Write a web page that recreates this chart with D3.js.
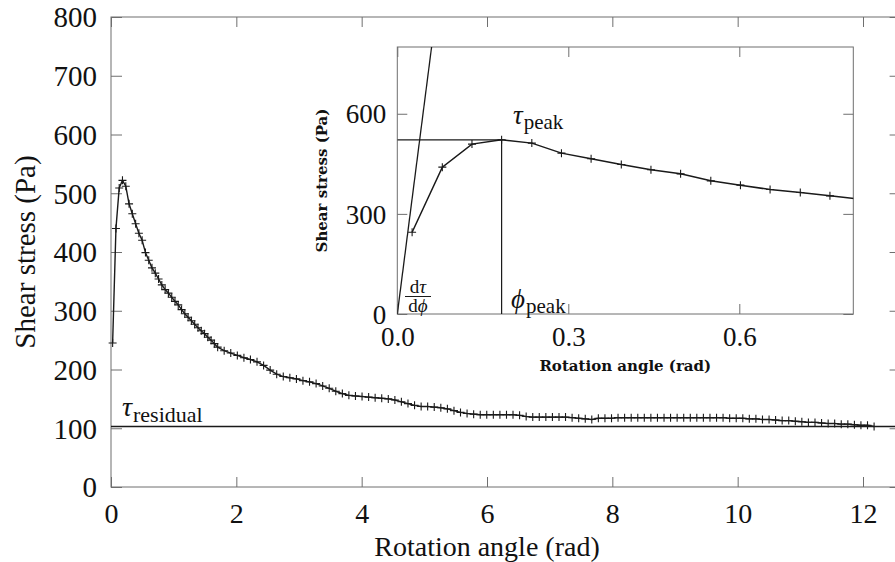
<!DOCTYPE html>
<html>
<head>
<meta charset="utf-8">
<script src="https://cdn.jsdelivr.net/npm/d3@7/dist/d3.min.js"></script>
<style>
  html, body { margin: 0; padding: 0; background: #fff; }
  svg { display: block; }
</style>
</head>
<body>
<div id="chart"></div>
<script>
// Rotation angle (rad) of each logged sample
const rotationAngle = [
  0.026, 0.079, 0.131, 0.183, 0.236, 0.288, 0.340, 0.393, 0.445, 0.497,
  0.550, 0.602, 0.654, 0.707, 0.759, 0.811, 0.864, 0.916, 0.969, 1.021,
  1.073, 1.126, 1.178, 1.230, 1.283, 1.335, 1.388, 1.440, 1.492, 1.545,
  1.597, 1.649, 1.702, 1.806, 1.911, 2.016, 2.121, 2.225, 2.330, 2.435,
  2.540, 2.644, 2.749, 2.854, 2.959, 3.063, 3.168, 3.273, 3.378, 3.482,
  3.587, 3.692, 3.796, 3.901, 4.006, 4.111, 4.215, 4.320, 4.425, 4.530,
  4.634, 4.739, 4.844, 4.949, 5.053, 5.158, 5.263, 5.368, 5.473, 5.577,
  5.682, 5.787, 5.892, 5.996, 6.101, 6.206, 6.311, 6.415, 6.520, 6.625,
  6.730, 6.834, 6.939, 7.044, 7.149, 7.253, 7.358, 7.463, 7.568, 7.672,
  7.777, 7.882, 7.987, 8.091, 8.196, 8.301, 8.406, 8.510, 8.615, 8.720,
  8.825, 8.929, 9.034, 9.139, 9.244, 9.348, 9.453, 9.558, 9.663, 9.767,
  9.872, 9.977, 10.082, 10.186, 10.291, 10.396, 10.501, 10.605, 10.710, 10.815,
  10.920, 11.024, 11.129, 11.234, 11.339, 11.444, 11.548, 11.653, 11.758, 11.863,
  11.967, 12.072, 12.177
];
// Shear stress (Pa) measured at each angle
const shearStress = [
  245, 440, 509, 522, 512, 482, 465, 448, 432, 420,
  399, 386, 373, 364, 354, 344, 336, 330, 323, 316,
  310, 302, 295, 289, 283, 277, 271, 266, 261, 255,
  250, 244, 238, 232, 228, 224, 220, 217, 213, 207,
  199, 192, 188, 186, 184, 181, 179, 176, 172, 168,
  163, 159, 156, 155, 154, 153, 152, 151, 150, 148,
  145, 142, 139, 137, 137, 136, 135, 133, 130, 127,
  125, 124, 123, 123, 123, 123, 123, 123, 122, 120,
  119, 119, 119, 119, 119, 119, 118, 117, 116, 115,
  117, 117, 117, 118, 118, 118, 118, 118, 118, 118,
  118, 118, 118, 118, 118, 118, 118, 118, 118, 118,
  117, 117, 117, 116, 116, 115, 115, 114, 113, 113,
  112, 111, 110, 110, 109, 108, 108, 107, 107, 106,
  105, 105, 103
];

// Characteristic values
const residualStress = 103;     // Pa
const peakStress = 522;         // Pa
const peakAngle = 0.183;        // rad
const initialSlope = 13300;     // Pa/rad, tangent at the origin

// Tick values
const mainXTicks = [0, 2, 4, 6, 8, 10, 12];
const mainYTicks = [0, 100, 200, 300, 400, 500, 600, 700, 800];
const insetXTicks = [0, 0.3, 0.6];
const insetYTicks = [0, 300, 600];

const data = rotationAngle.map((a, i) => ({ a, s: shearStress[i] }));

const W = 895, H = 562;
const serif = "'Liberation Serif', 'DejaVu Serif', serif";
const boldSerif = "'DejaVu Serif', serif";
const svg = d3.select("#chart").append("svg")
  .attr("width", W).attr("height", H)
  .attr("viewBox", `0 0 ${W} ${H}`)
  .style("font-family", serif);
svg.append("rect").attr("width", W).attr("height", H).attr("fill", "#fff");

const frameColor = "#6f6f6f";
const inkColor = "#1a1a1a";
const plus = "M-4,0H4M0,-4V4";

// ---------- main panel ----------
const x = d3.scaleLinear().domain([0, 12.6]).range([111, 900.6]);
const y = d3.scaleLinear().domain([0, 800]).range([487, 17]);

const main = svg.append("g");

function styleAxis(g) {
  g.select(".domain").remove();
  g.selectAll(".tick line").attr("stroke", frameColor).attr("stroke-width", 1);
  g.selectAll(".tick text").style("fill", "#111").style("font-family", serif);
}

main.append("g")
  .attr("transform", `translate(${x(0)},0)`)
  .call(d3.axisLeft(y).tickValues(mainYTicks).tickSizeInner(-11).tickSizeOuter(0).tickPadding(14))
  .call(styleAxis)
  .call(g => g.selectAll(".tick text").style("font-size", "29px").attr("dy", "0.34em"));

main.append("g")
  .attr("transform", `translate(${x.range()[1]},0)`)
  .call(d3.axisRight(y).tickValues(mainYTicks).tickSizeInner(-11).tickSizeOuter(0).tickFormat(""))
  .call(styleAxis);

main.append("g")
  .attr("transform", `translate(0,${y(0)})`)
  .call(d3.axisBottom(x).tickValues(mainXTicks).tickSizeInner(-10).tickSizeOuter(0).tickPadding(16))
  .call(styleAxis)
  .call(g => g.selectAll(".tick text").style("font-size", "28px").attr("dy", "0.72em"));

main.append("g")
  .attr("transform", `translate(0,${y(800)})`)
  .call(d3.axisTop(x).tickValues(mainXTicks).tickSizeInner(-10).tickSizeOuter(0).tickFormat(""))
  .call(styleAxis);

main.append("rect")
  .attr("x", x(0)).attr("y", y(800))
  .attr("width", x.range()[1] - x(0)).attr("height", y(0) - y(800))
  .attr("fill", "none").attr("stroke", frameColor).attr("stroke-width", 1);

// residual stress level
main.append("line")
  .attr("x1", x(0)).attr("x2", x.range()[1])
  .attr("y1", y(residualStress)).attr("y2", y(residualStress))
  .attr("stroke", inkColor).attr("stroke-width", 1.3);

const resLabel = main.append("text")
  .attr("x", 122).attr("y", y(residualStress) - 10)
  .style("font-size", "28px").style("fill", "#111");
resLabel.append("tspan").style("font-style", "italic").text("τ");
resLabel.append("tspan").style("font-size", "22px").attr("dx", 1).attr("dy", 6).text("residual");

// measured curve
const mainLine = d3.line().x(d => x(d.a)).y(d => y(d.s));
main.append("path").datum(data)
  .attr("d", mainLine)
  .attr("fill", "none").attr("stroke", inkColor).attr("stroke-width", 1.4);
main.append("g").selectAll("path").data(data).join("path")
  .attr("transform", d => `translate(${x(d.a)},${y(d.s)})`)
  .attr("d", plus).attr("stroke", inkColor).attr("stroke-width", 1.1);

// axis titles
svg.append("text")
  .attr("x", 487).attr("y", 556)
  .attr("text-anchor", "middle").style("font-size", "28px").style("fill", "#111")
  .text("Rotation angle (rad)");
svg.append("text")
  .attr("transform", "translate(35,252) rotate(-90)")
  .attr("text-anchor", "middle").style("font-size", "29px").style("fill", "#111")
  .text("Shear stress (Pa)");

// ---------- inset: detail of the peak ----------
const ix = d3.scaleLinear().domain([0, 0.8]).range([397.3, 853.3]);
const iy = d3.scaleLinear().domain([0, 800]).range([314, 47]);

const inset = svg.append("g");
inset.append("rect")
  .attr("x", ix(0)).attr("y", iy(800))
  .attr("width", ix(0.8) - ix(0)).attr("height", iy(0) - iy(800))
  .attr("fill", "#fff");

svg.append("defs").append("clipPath").attr("id", "insetClip")
  .append("rect")
  .attr("x", ix(0)).attr("y", iy(800))
  .attr("width", ix(0.8) - ix(0)).attr("height", iy(0) - iy(800));

inset.append("g")
  .attr("transform", `translate(${ix(0)},0)`)
  .call(d3.axisLeft(iy).tickValues(insetYTicks).tickSizeInner(-10).tickSizeOuter(0).tickPadding(11))
  .call(styleAxis)
  .call(g => g.selectAll(".tick text").style("font-size", "27px").attr("dy", "0.34em"));
inset.append("g")
  .attr("transform", `translate(${ix(0.8)},0)`)
  .call(d3.axisRight(iy).tickValues(insetYTicks).tickSizeInner(-10).tickSizeOuter(0).tickFormat(""))
  .call(styleAxis);
inset.append("g")
  .attr("transform", `translate(0,${iy(0)})`)
  .call(d3.axisBottom(ix).tickValues(insetXTicks).tickSizeInner(-10).tickSizeOuter(0).tickPadding(13))
  .call(styleAxis)
  .call(g => g.selectAll(".tick text").style("font-size", "27px").attr("dy", "0.72em"));
inset.append("g")
  .attr("transform", `translate(0,${iy(800)})`)
  .call(d3.axisTop(ix).tickValues(insetXTicks).tickSizeInner(-10).tickSizeOuter(0).tickFormat(""))
  .call(styleAxis);

inset.append("rect")
  .attr("x", ix(0)).attr("y", iy(800))
  .attr("width", ix(0.8) - ix(0)).attr("height", iy(0) - iy(800))
  .attr("fill", "none").attr("stroke", frameColor).attr("stroke-width", 1);

const plot = inset.append("g").attr("clip-path", "url(#insetClip)");

// initial tangent through the origin
plot.append("line")
  .attr("x1", ix(0)).attr("y1", iy(0))
  .attr("x2", ix(800 / initialSlope)).attr("y2", iy(800))
  .attr("stroke", inkColor).attr("stroke-width", 1.3);

// peak guides
plot.append("line")
  .attr("x1", ix(0)).attr("x2", ix(peakAngle))
  .attr("y1", iy(peakStress)).attr("y2", iy(peakStress))
  .attr("stroke", inkColor).attr("stroke-width", 1.2);
plot.append("line")
  .attr("x1", ix(peakAngle)).attr("x2", ix(peakAngle))
  .attr("y1", iy(peakStress)).attr("y2", iy(0))
  .attr("stroke", inkColor).attr("stroke-width", 1.2);

const insetData = data.filter(d => d.a <= 0.9);
const insetLine = d3.line().x(d => ix(d.a)).y(d => iy(d.s));
plot.append("path").datum(insetData)
  .attr("d", insetLine)
  .attr("fill", "none").attr("stroke", inkColor).attr("stroke-width", 1.5);
plot.append("g").selectAll("path").data(insetData).join("path")
  .attr("transform", d => `translate(${ix(d.a)},${iy(d.s)})`)
  .attr("d", plus).attr("stroke", inkColor).attr("stroke-width", 1.1);

// annotations
const tp = inset.append("text").attr("x", 513).attr("y", 124)
  .style("font-size", "27px").style("fill", "#111");
tp.append("tspan").style("font-style", "italic").text("τ");
tp.append("tspan").style("font-size", "21px").attr("dx", 1).attr("dy", 5).text("peak");

const pp = inset.append("text").attr("x", 511).attr("y", 308)
  .style("font-size", "27px").style("fill", "#111");
pp.append("tspan").style("font-style", "italic").text("ϕ");
pp.append("tspan").style("font-size", "21px").attr("dx", 1).attr("dy", 5).text("peak");

const fx = 418;
const fr1 = inset.append("text").attr("x", fx).attr("y", 293).attr("text-anchor", "middle")
  .style("font-size", "19px").style("fill", "#111");
fr1.append("tspan").text("d");
fr1.append("tspan").style("font-style", "italic").text("τ");
inset.append("line").attr("x1", fx - 13).attr("x2", fx + 13).attr("y1", 296.5).attr("y2", 296.5)
  .attr("stroke", inkColor).attr("stroke-width", 1);
const fr2 = inset.append("text").attr("x", fx).attr("y", 312).attr("text-anchor", "middle")
  .style("font-size", "19px").style("fill", "#111");
fr2.append("tspan").text("d");
fr2.append("tspan").style("font-style", "italic").text("ϕ");

// inset axis titles
inset.append("text")
  .attr("x", (ix(0) + ix(0.8)) / 2).attr("y", 371)
  .attr("text-anchor", "middle")
  .style("font-size", "15px").style("font-weight", "bold")
  .style("font-family", boldSerif).style("fill", "#111")
  .text("Rotation angle (rad)");
inset.append("text")
  .attr("transform", `translate(327,${(iy(0) + iy(800)) / 2}) rotate(-90)`)
  .attr("text-anchor", "middle")
  .style("font-size", "15px").style("font-weight", "bold")
  .style("font-family", boldSerif).style("fill", "#111")
  .text("Shear stress (Pa)");
</script>
</body>
</html>
